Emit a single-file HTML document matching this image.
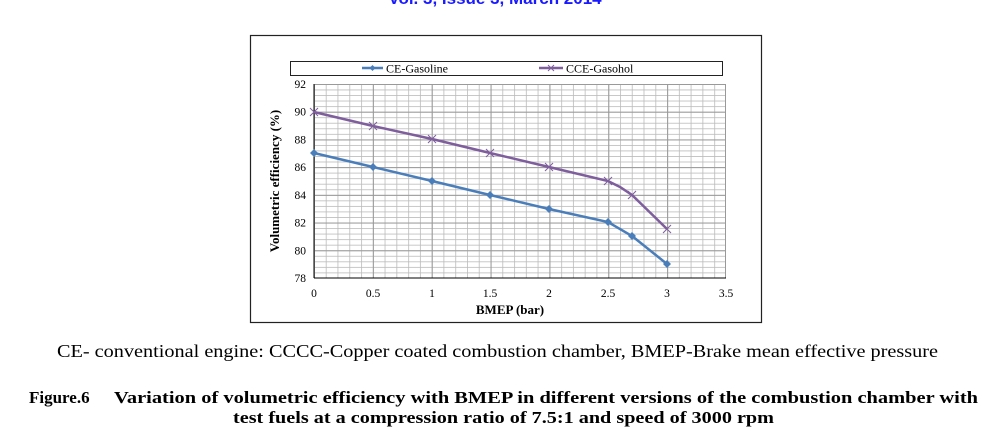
<!DOCTYPE html>
<html><head><style>
body{margin:0;background:#fff;width:989px;height:434px;overflow:hidden;font-family:"Liberation Serif",serif}
</style></head><body>
<svg width="989" height="434" xmlns="http://www.w3.org/2000/svg" font-family="Liberation Serif, serif">
<defs>
<pattern id="minor" x="314" y="84" width="11.771" height="5.543" patternUnits="userSpaceOnUse">
<path d="M0.4 0V5.543M0 0.4H11.771" stroke="#bbb" stroke-width="0.8" fill="none"/>
</pattern>
<pattern id="major" x="314" y="84" width="58.857" height="27.714" patternUnits="userSpaceOnUse">
<path d="M0.5 0V27.714M0 0.5H58.857" stroke="#999" stroke-width="1" fill="none"/>
</pattern>
</defs>
<text x="495" y="4" text-anchor="middle" font-family="Liberation Sans, sans-serif" font-weight="bold" font-size="17" fill="#1a1aff">Vol. 3, Issue 3, March 2014</text>
<rect x="250.5" y="35.5" width="511" height="287" fill="#fff" stroke="#222" stroke-width="1.2"/>
<rect x="290.5" y="61.5" width="432" height="14" fill="#fff" stroke="#222"/>
<line x1="362" y1="68" x2="383" y2="68" stroke="#4a7ebb" stroke-width="2.5"/>
<path d="M372.5 65 L375.5 68 L372.5 71 L369.5 68Z" fill="#4a7ebb"/>
<text x="386" y="72.5" font-size="12">CE-Gasoline</text>
<line x1="539" y1="68" x2="563" y2="68" stroke="#7e5e9c" stroke-width="2.5"/>
<path d="M548 65 L554 71 M548 71 L554 65" stroke="#7e5e9c"/>
<text x="566" y="72.5" font-size="12">CCE-Gasohol</text>
<rect x="314" y="84" width="412" height="194" fill="url(#minor)"/>
<rect x="314" y="84" width="412" height="194" fill="url(#major)"/>
<line x1="725.5" y1="84" x2="725.5" y2="278" stroke="#999"/>
<line x1="314" y1="278" x2="314" y2="84" stroke="#000"/>
<line x1="314" y1="278" x2="726" y2="278" stroke="#000"/>
<g font-size="11.5" text-anchor="end">
<text x="306" y="88">92</text><text x="306" y="115.7">90</text><text x="306" y="143.4">88</text><text x="306" y="171.1">86</text><text x="306" y="198.9">84</text><text x="306" y="226.6">82</text><text x="306" y="254.3">80</text><text x="306" y="282">78</text>
</g>
<g font-size="11.5" text-anchor="middle">
<text x="314" y="297">0</text><text x="373" y="297">0.5</text><text x="432" y="297">1</text><text x="490" y="297">1.5</text><text x="549" y="297">2</text><text x="608" y="297">2.5</text><text x="667" y="297">3</text><text x="726" y="297">3.5</text>
</g>
<text x="510" y="314" font-size="13" font-weight="bold" text-anchor="middle">BMEP (bar)</text>
<text transform="translate(279,181) rotate(-90)" font-size="13" font-weight="bold" text-anchor="middle">Volumetric efficiency (%)</text>
<polyline points="314,153 373,167 432,181 490,195 549,209 608,222 632,236 667,264" fill="none" stroke="#4a7ebb" stroke-width="2.5"/>
<g fill="#4a7ebb">
<path d="M314 149l4 4-4 4-4-4z"/><path d="M373 163l4 4-4 4-4-4z"/><path d="M432 177l4 4-4 4-4-4z"/><path d="M490 191l4 4-4 4-4-4z"/><path d="M549 205l4 4-4 4-4-4z"/><path d="M608 218l4 4-4 4-4-4z"/><path d="M632 232l4 4-4 4-4-4z"/><path d="M667 260l4 4-4 4-4-4z"/>
</g>
<polyline points="314,112 373,126 432,139 490,153 549,167 608,181 620,187 632,195 667,229" fill="none" stroke="#7e5e9c" stroke-width="2.5"/>
<g stroke="#7e5e9c" stroke-width="1">
<path d="M310 108l8 8M310 116l8-8"/><path d="M369 122l8 8M369 130l8-8"/><path d="M428 135l8 8M428 143l8-8"/><path d="M486 149l8 8M486 157l8-8"/><path d="M545 163l8 8M545 171l8-8"/><path d="M604 177l8 8M604 185l8-8"/><path d="M628 191l8 8M628 199l8-8"/><path d="M663 225l8 8M663 233l8-8"/>
</g>
<text x="57" y="357" font-size="18" textLength="881" lengthAdjust="spacingAndGlyphs">CE- conventional engine:  CCCC-Copper coated combustion chamber, BMEP-Brake mean effective pressure</text>
<text x="29" y="403" font-size="17" font-weight="bold">Figure.6</text>
<text x="114" y="403" font-size="17" font-weight="bold" textLength="864" lengthAdjust="spacingAndGlyphs">Variation of volumetric efficiency with BMEP in different versions of the combustion chamber with</text>
<text x="233" y="423" font-size="17" font-weight="bold" textLength="541" lengthAdjust="spacingAndGlyphs">test fuels at a compression ratio of 7.5:1 and speed of 3000 rpm</text>
</svg>
</body></html>
